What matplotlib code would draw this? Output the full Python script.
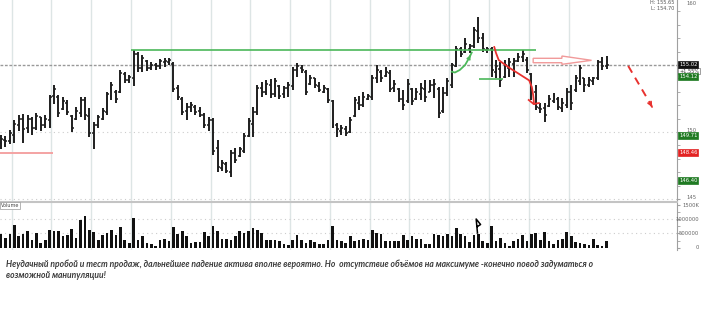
import matplotlib
matplotlib.use("Agg")
import matplotlib.pyplot as plt
import numpy as np
from matplotlib.patches import Polygon
from matplotlib.lines import Line2D
from matplotlib.transforms import blended_transform_factory

# ---- daily OHLC bars ----
opens = [149.2, 149.4, 149.3, 149.8, 150.5, 151.0, 150.3, 151.0, 150.3, 151.1,
         150.5, 150.9, 152.7, 152.6, 151.7, 152.2, 151.2, 151.0, 151.4, 152.4,
         151.2, 149.9, 150.5, 151.0, 151.5, 152.7, 153.0, 153.0, 154.3, 153.9,
         154.0, 155.8, 154.8, 155.3, 154.8, 155.0, 154.9, 155.2, 155.2, 155.1,
         153.3, 152.5, 151.6, 151.9, 151.9, 151.6, 151.3, 150.5, 150.9, 148.8,
         147.3, 147.6, 147.0, 148.4, 148.2, 148.6, 149.7, 150.6, 151.5, 153.3,
         153.0, 153.5, 152.8, 153.4, 152.8, 153.3, 153.4, 154.6, 154.8, 154.5,
         153.6, 154.0, 153.4, 153.0, 153.2, 152.3, 150.5, 150.1, 150.2, 150.0,
         151.2, 152.2, 152.0, 152.5, 152.6, 154.0, 154.5, 154.2, 154.4, 153.3,
         153.2, 152.5, 152.3, 153.2, 152.5, 152.8, 153.2, 153.0, 153.5, 153.2,
         151.6, 152.9, 153.5, 154.9, 156.2, 155.95, 156.2, 156.4, 157.5, 157.0,
         156.1, 156.2, 154.5, 154.7, 154.1, 154.8, 155.1, 155.3, 155.6, 155.4,
         154.3, 153.0, 151.8, 151.8, 151.95, 152.3, 152.5, 151.8, 152.0, 153.0,
         153.1, 153.8, 154.0, 153.5, 153.8, 154.0, 155.2, 154.9]
highs = [149.78, 149.70, 150.15, 150.90, 151.27, 151.34, 151.27, 151.12, 151.42, 151.12,
         151.27, 152.76, 153.51, 152.76, 152.61, 152.39, 151.27, 151.87, 152.61, 152.61,
         151.79, 150.75, 151.27, 151.79, 152.98, 153.73, 153.13, 154.63, 154.48, 154.25,
         156.12, 155.97, 155.75, 155.37, 155.22, 155.15, 155.45, 155.52, 155.52, 155.22,
         153.51, 152.61, 152.16, 152.24, 152.01, 151.87, 151.42, 151.12, 151.04, 149.40,
         147.91, 147.76, 148.66, 148.81, 148.88, 149.93, 151.04, 151.87, 153.51, 153.73,
         153.88, 153.95, 154.03, 153.51, 153.43, 153.73, 154.85, 155.15, 155.00, 154.63,
         154.25, 154.03, 153.73, 153.51, 153.28, 152.39, 150.67, 150.52, 150.45, 151.12,
         152.61, 152.69, 152.98, 152.83, 154.25, 155.00, 154.63, 154.85, 154.63, 153.88,
         153.28, 153.13, 153.95, 153.28, 153.28, 153.66, 153.88, 153.88, 153.95, 153.36,
         153.36, 154.03, 155.15, 156.42, 156.34, 157.01, 156.57, 157.83, 158.58, 157.39,
         156.34, 156.34, 155.37, 155.22, 155.37, 155.52, 155.52, 155.89, 156.12, 155.60,
         154.40, 153.51, 152.16, 152.16, 152.76, 152.91, 152.61, 152.54, 153.28, 153.51,
         154.25, 155.00, 154.03, 154.10, 154.10, 155.37, 155.60, 155.65]
lows = [148.73, 148.88, 149.10, 149.18, 150.07, 149.18, 149.93, 149.78, 150.15, 150.07,
        150.30, 150.30, 152.09, 151.12, 151.64, 151.27, 150.00, 150.90, 151.12, 150.90,
        149.63, 148.73, 150.30, 150.90, 151.27, 152.39, 152.16, 152.91, 153.66, 153.66,
        153.43, 154.48, 154.48, 154.55, 154.63, 154.63, 154.70, 154.85, 155.00, 152.98,
        152.39, 151.27, 150.90, 151.49, 151.27, 151.12, 150.30, 150.07, 148.28, 147.01,
        147.09, 146.94, 146.64, 147.69, 148.13, 148.43, 149.63, 149.63, 151.27, 152.61,
        152.76, 152.54, 152.61, 152.46, 152.54, 152.61, 153.13, 154.10, 154.40, 152.76,
        153.51, 153.28, 152.98, 152.91, 152.16, 150.30, 149.63, 149.78, 149.70, 149.93,
        151.12, 151.64, 151.87, 152.39, 152.39, 153.66, 153.73, 154.10, 152.98, 152.98,
        152.24, 151.64, 152.16, 152.01, 152.39, 152.39, 152.24, 152.98, 152.54, 151.04,
        151.42, 152.69, 153.28, 154.85, 155.60, 155.89, 155.89, 156.27, 156.64, 155.97,
        155.89, 154.10, 154.03, 153.36, 154.03, 154.10, 154.10, 155.22, 155.22, 154.40,
        152.39, 151.64, 151.42, 150.75, 151.87, 152.16, 151.64, 151.49, 151.79, 151.64,
        152.98, 153.51, 152.98, 153.36, 153.51, 153.88, 154.63, 154.70]
closes = [149.5, 149.3, 149.9, 150.6, 151.0, 150.2, 151.0, 150.3, 151.2, 150.5,
          151.0, 152.6, 153.2, 151.4, 152.3, 151.5, 150.3, 151.6, 152.4, 151.3,
          149.9, 150.5, 151.1, 151.6, 152.8, 153.5, 152.5, 154.4, 153.9, 154.1,
          155.8, 154.8, 155.5, 154.8, 155.0, 154.9, 155.3, 155.3, 155.4, 153.2,
          152.6, 151.5, 151.9, 152.0, 151.5, 151.3, 150.5, 150.9, 148.6, 147.4,
          147.7, 147.1, 148.4, 147.9, 148.7, 149.7, 150.8, 151.5, 153.3, 153.0,
          153.6, 152.8, 153.8, 152.7, 153.3, 153.5, 154.6, 154.9, 154.6, 153.0,
          154.0, 153.5, 153.1, 153.3, 152.4, 150.5, 150.2, 150.3, 149.9, 150.9,
          152.4, 152.0, 152.6, 152.7, 154.0, 154.6, 154.0, 154.5, 153.2, 153.6,
          152.5, 152.0, 153.6, 152.3, 153.0, 153.3, 152.6, 153.5, 153.6, 151.4,
          152.9, 153.8, 155.0, 156.2, 155.8, 156.6, 156.4, 157.6, 157.0, 156.2,
          156.2, 154.6, 154.9, 153.9, 155.0, 155.2, 155.3, 155.6, 155.8, 154.6,
          153.0, 151.9, 151.7, 151.3, 152.5, 152.7, 151.9, 152.2, 153.0, 152.2,
          154.0, 154.8, 153.5, 153.9, 154.0, 155.2, 154.9, 155.02]
volumes_k = [493, 345, 493, 803, 424, 493, 596, 262, 517, 172,
             262, 607, 586, 572, 424, 434, 655, 345, 976, 1090,
             607, 552, 286, 434, 517, 631, 459, 724, 262, 172,
             1034, 286, 400, 172, 138, 79, 262, 310, 228, 724,
             483, 586, 400, 172, 193, 207, 538, 424, 769, 572,
             321, 321, 286, 400, 572, 517, 572, 690, 631, 517,
             286, 262, 286, 228, 138, 114, 286, 459, 262, 172,
             262, 193, 152, 152, 286, 745, 286, 228, 172, 400,
             228, 286, 310, 286, 607, 517, 493, 228, 228, 228,
             252, 434, 286, 424, 310, 310, 138, 138, 493, 459,
             400, 493, 424, 690, 493, 400, 207, 459, 483, 228,
             172, 745, 228, 345, 172, 79, 252, 310, 459, 228,
             483, 517, 286, 538, 228, 138, 262, 310, 538, 400,
             193, 172, 138, 114, 310, 114, 55, 228]
volumes = [v * 1000 for v in volumes_k]

# levels shown on the price scale
level_values = [155.02, 154.12, 149.71, 148.46, 146.40]
level_colors = ['#111111', '#1f7a22', '#1f7a22', '#e32222', '#1f7a22']
change_text = '+1.55%'
day_high, day_low = 155.65, 154.70

resistance = 156.12      # green line from the first top
red_level = 148.46       # short red line on the left
retest_level = 153.93    # short green line after the false breakout

W, H = 701, 319
fig = plt.figure(figsize=(W / 100, H / 100), dpi=100)
fig.patch.set_facecolor('white')


def box(x0, y0, x1, y1):
    return [x0 / W, 1 - y1 / H, (x1 - x0) / W, (y1 - y0) / H]


ax = fig.add_axes(box(0, 0, 677, 200.5))
axv = fig.add_axes(box(0, 202.5, 677, 250))

idx = np.arange(len(closes))
for a in (ax, axv):
    a.set_xlim(-0.226, 152.94)
    a.set_xticks([])
    for s in ('left', 'top', 'bottom'):
        a.spines[s].set_visible(False)
    a.spines['right'].set_color('#a0a0a0')
    a.spines['right'].set_linewidth(0.8)
    a.set_facecolor('white')
    for k in range(15):
        a.axvline(2.42 + 9 * k, color='#dde5e5', lw=1.0, zorder=0)
    a.tick_params(axis='y', which='both', direction='out', length=2, color='#a0a0a0',
                  left=False, right=True, labelleft=False, labelright=False)

ax.set_ylim(144.89, 159.85)
ax.set_yticks([145, 150, 155])
ax.set_yticks(np.arange(145, 160), minor=True)
axv.set_ylim(-69000, 1569000)
axv.set_yticks([0, 500000, 1000000, 1500000])
axv.set_yticks(np.arange(0, 1500001, 250000), minor=True)

# dotted price grid and current price line
for lv in (145, 150):
    ax.axhline(lv, color='#cccccc', lw=0.8, ls=(0, (1, 3)), zorder=0)
ax.axhline(closes[-1], color='#999999', lw=1.0, ls=(0, (2, 1.2)), zorder=1)
for lv in (500000, 1000000):
    axv.axhline(lv, color='#cccccc', lw=0.8, ls=(0, (1, 3)), zorder=0)

# OHLC bars
bar_c = '#1e1e1e'
ax.vlines(idx, lows, highs, color=bar_c, lw=1.4, zorder=3)
ax.hlines(opens, idx - 0.45, idx, color=bar_c, lw=1.1, zorder=3)
ax.hlines(closes, idx, idx + 0.45, color=bar_c, lw=1.1, zorder=3)

# volume bars
axv.bar(idx, volumes, width=0.6, color='#111111', zorder=3)

# ---- hand drawn annotations ----
green = '#4cb85a'
red = '#e8322f'
ax.hlines(resistance, 29.4, 121.0, color=green, lw=1.2, zorder=4)
ax.hlines(red_level, -0.3, 11.8, color='#f4a3a3', lw=1.4, zorder=4)
ax.hlines(retest_level, 108.1, 113.6, color=green, lw=1.2, zorder=4)

arc_i = [101.97, 102.7, 103.8, 105.0, 105.9, 106.5]
arc_p = [154.50, 154.44, 154.63, 155.00, 155.52, 155.93]
ax.plot(arc_i, arc_p, color=green, lw=1.3, zorder=5)
ax.annotate('', xy=(arc_i[-1], arc_p[-1]), xytext=(arc_i[-2], arc_p[-2]),
            arrowprops=dict(arrowstyle='->', color=green, lw=1.2, mutation_scale=5), zorder=5)

red_i = [111.6, 112.0, 112.6, 113.7, 115.2, 117.6, 119.5, 120.1, 120.4, 120.6]
red_p = [156.34, 155.89, 155.37, 155.10, 154.75, 154.25, 153.85, 153.35, 152.75, 152.09]
ax.plot(red_i, red_p, color=red, lw=1.3, zorder=5)
ax.plot([119.4, 120.5, 121.7], [152.39, 152.09, 152.16], color=red, lw=1.3, zorder=5)

hollow = [(120.4, 155.50), (126.9, 155.50), (126.9, 155.67), (133.6, 155.35),
          (126.9, 155.05), (126.9, 155.17), (120.4, 155.17)]
ax.add_patch(Polygon(hollow, closed=True, fc='white', ec='#f19a9a', lw=1.0, zorder=5))

ax.plot([141.9, 147.2], [154.93, 151.95], color=red, lw=1.4, ls=(0, (4, 3)), zorder=5)
ax.annotate('', xy=(147.6, 151.68), xytext=(147.0, 152.05),
            arrowprops=dict(arrowstyle='->', color=red, lw=1.3, mutation_scale=6), zorder=5)

axv.plot([107.8, 107.5, 108.5, 107.8], [517000, 1000000, 810000, 741000],
         color='black', lw=1.1, zorder=5)

# ---- right scale labels ----
tp = blended_transform_factory(ax.transAxes, ax.transData)
tv = blended_transform_factory(axv.transAxes, axv.transData)
x_lab = 1 + 2 / 677
for val, col in zip(level_values, level_colors):
    ax.text(x_lab, val, f'{val:.2f}', transform=tp, fontsize=3.8, color='white',
            ha='left', va='center', clip_on=False, zorder=10,
            bbox=dict(boxstyle='square,pad=0.18', fc=col, ec=col, lw=0.5))
ax.text(x_lab, 154.55, change_text, transform=tp, fontsize=3.6, color='#333333',
        ha='left', va='center', clip_on=False, zorder=9,
        bbox=dict(boxstyle='square,pad=0.12', fc='white', ec='#777777', lw=0.5))

ax.text(1 + 9 / 677, 159.8, '160', transform=tp, fontsize=3.8,
        color='#666666', ha='left', va='top', clip_on=False)
for val in (150, 145):
    ax.text(1 + 9 / 677, val + 0.08, str(val), transform=tp, fontsize=3.8,
            color='#666666', ha='left', va='center', clip_on=False)
for val, lab in zip([1480000, 1000000, 500000, 0], ['1500K', '1000000', '500000', '0']):
    axv.text(1 + 22 / 677, val, lab, transform=tv, fontsize=3.8, color='#666666',
             ha='right', va='center', clip_on=False)

fig.text(674 / W, 1 - 2.5 / H, f'H: {day_high:.2f}', fontsize=3.6, color='#555555',
         ha='right', va='center')
fig.text(674 / W, 1 - 8.5 / H, f'L: {day_low:.2f}', fontsize=3.6, color='#555555',
         ha='right', va='center')

# separator between the panels and the volume tag
fig.add_artist(Line2D([0, 677 / W], [1 - 201.6 / H] * 2, color='#c4c4c4', lw=1.5))
fig.text(1 / W, 1 - 205.5 / H, 'Volume', fontsize=3.5, color='#444444', va='center',
         bbox=dict(boxstyle='square,pad=0.15', fc='white', ec='#999999', lw=0.5))

# caption
caption1 = ('Неудачный пробой и тест продаж, дальнейшее падение актива вполне вероятно. '
            'Но  отсутствие объёмов на максимуме -конечно повод задуматься о')
caption2 = 'возможной манипуляции!'
for txt, yy in ((caption1, 264.5), (caption2, 275)):
    fig.text(6 / W, 1 - yy / H, txt, fontsize=6.15, family='Lato', style='italic',
             weight='bold', color='#3a3a3a', va='center')

fig.savefig('out.png', dpi=100, facecolor='white')
